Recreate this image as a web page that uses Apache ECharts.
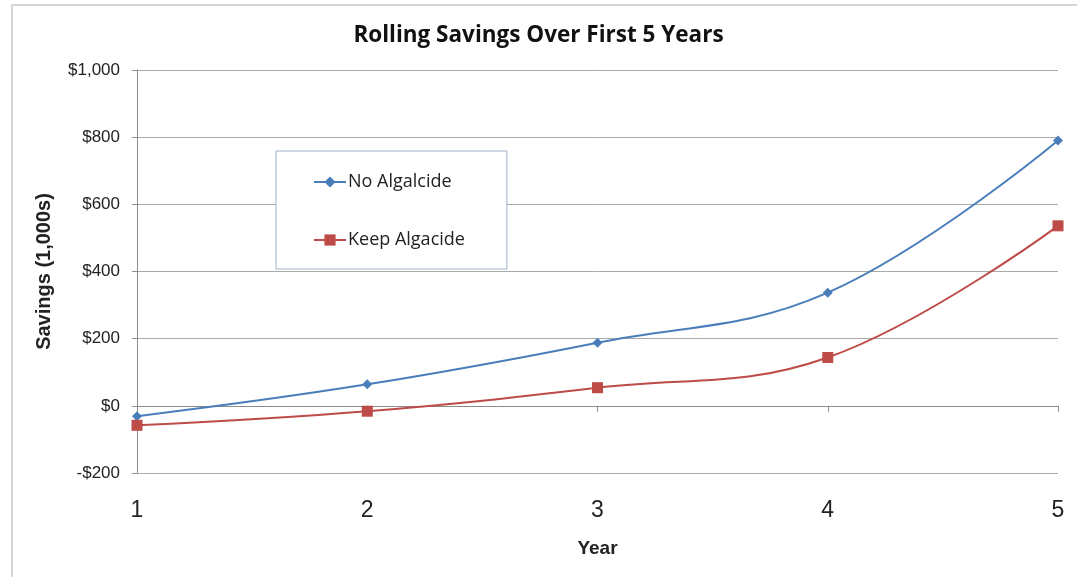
<!DOCTYPE html>
<html>
<head>
<meta charset="utf-8">
<script src="https://cdn.jsdelivr.net/npm/echarts@6/dist/echarts.min.js"></script>
<style>
html,body{margin:0;padding:0;background:#fff;}
#chart{width:1077px;height:577px;}
</style>
</head>
<body>
<div id="chart"></div>
<script>
const years = [1, 2, 3, 4, 5];
const noAlgalcide = [-31, 64, 188, 337, 790];
const keepAlgacide = [-58, -16, 54, 144, 536];
const seriesNames = ['No Algalcide', 'Keep Algacide'];
const yMin = -200, yMax = 1000, yStep = 200;

function money(v){
  const s = '$' + Math.abs(v).toLocaleString('en-US');
  return v < 0 ? '-' + s : s;
}

const chart = echarts.init(document.getElementById('chart'), null, {renderer:'canvas'});
chart.setOption({
  backgroundColor:'#fff',
  animation:false,
  title:{
    text:'Rolling Savings Over First 5 Years',
    left:'center', top:19,
    textStyle:{fontFamily:'Open Sans', fontWeight:'bold', fontSize:22.5, color:'#111'}
  },
  graphic:[{
    type:'rect', shape:{x:12, y:5, width:1080, height:585},
    style:{fill:'none', stroke:'#d6d6d6', lineWidth:2}, silent:true
  }],
  legend:{
    orient:'vertical', left:276, top:151,
    padding:[22, 42, 20, 37], itemGap:40,
    itemWidth:32, itemHeight:14,
    backgroundColor:'#fff', borderColor:'#9eb2c8', borderWidth:1,
    textStyle:{fontFamily:'Open Sans', fontSize:18, color:'#222', padding:[0,0,0,-3]},
    data:seriesNames
  },
  grid:{left:137, right:19, top:70, bottom:104},
  xAxis:[{
    type:'value', min:1, max:5, interval:1,
    axisLine:{onZero:true, lineStyle:{color:'#8c8c8c'}},
    axisTick:{show:true, length:6, lineStyle:{color:'#8c8c8c'}},
    axisLabel:{show:false},
    splitLine:{show:false}
  },{
    type:'value', min:1, max:5, interval:1, position:'bottom',
    axisLine:{show:false, onZero:false}, axisTick:{show:false},
    axisLabel:{margin:26, fontFamily:'Liberation Sans', fontSize:23, color:'#222'},
    splitLine:{show:false},
    name:'Year', nameLocation:'middle', nameGap:66,
    nameTextStyle:{fontFamily:'Liberation Sans', fontWeight:'bold', fontSize:19, color:'#222'}
  }],
  yAxis:{
    type:'value', min:yMin, max:yMax, interval:yStep,
    axisLine:{show:true, lineStyle:{color:'#8c8c8c'}},
    axisTick:{show:true, length:5, lineStyle:{color:'#8c8c8c'}},
    axisLabel:{formatter:money, margin:17, fontFamily:'Liberation Sans', fontSize:17, color:'#222'},
    splitLine:{lineStyle:{color:'#aaaaaa', width:1}},
    name:'Savings (1,000s)', nameLocation:'middle', nameGap:83, nameRotate:90,
    nameTextStyle:{fontFamily:'Liberation Sans', fontWeight:'bold', fontSize:20, color:'#222'}
  },
  series:[{
    name:seriesNames[0], type:'line', xAxisIndex:0,
    data:years.map((y,i)=>[y, noAlgalcide[i]]),
    smooth:0.4, symbol:'diamond', symbolSize:10,
    lineStyle:{color:'#4a7ebb', width:2}, itemStyle:{color:'#4a7ebb'}
  },{
    name:seriesNames[1], type:'line', xAxisIndex:0,
    data:years.map((y,i)=>[y, keepAlgacide[i]]),
    smooth:0.4, symbol:'rect', symbolSize:11,
    lineStyle:{color:'#be4b48', width:2}, itemStyle:{color:'#be4b48'}
  }]
});
</script>
</body>
</html>
